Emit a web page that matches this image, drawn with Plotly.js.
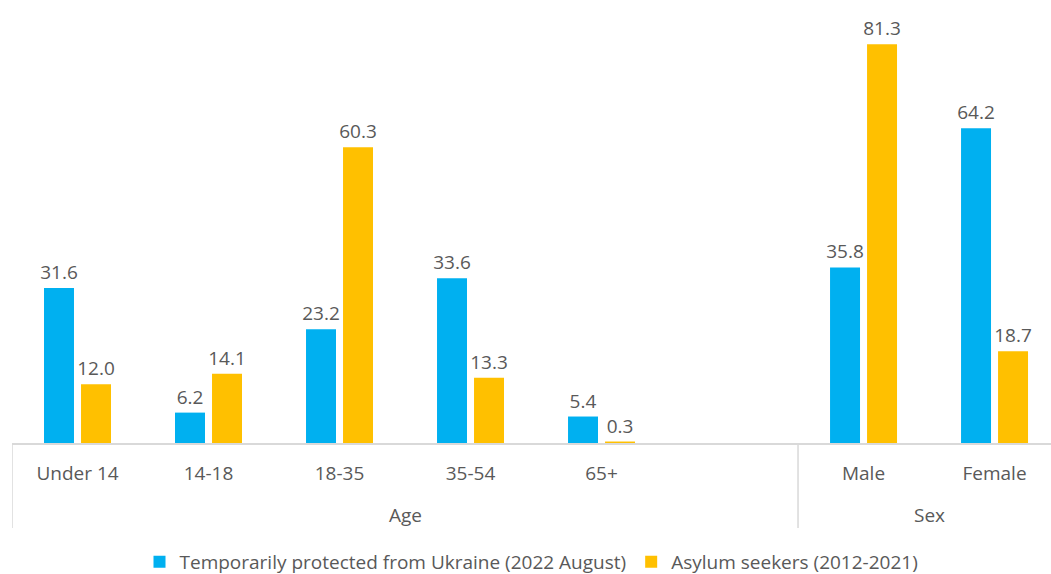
<!DOCTYPE html>
<html>
<head>
<meta charset="utf-8">
<script src="https://cdn.plot.ly/plotly-3.0.1.min.js"></script>
<style>html,body{margin:0;padding:0;background:#fff;}#chart{width:1051px;height:574px;}</style>
</head>
<body>
<div id="chart"></div>
<script>
const categories = ["Under 14","14-18","18-35","35-54","65+"," ","Male","Female"];
const groupLabels = ["Age","Sex"];
const groupStarts = [-0.5, 5.5];
const groupEnds = [5.5, 7.5];
const ukraine = [31.6, 6.2, 23.2, 33.6, 5.4, null, 35.8, 64.2];
const asylum = [12.0, 14.1, 60.3, 13.3, 0.3, null, 81.3, 18.7];
const seriesNames = ["Temporarily protected from Ukraine (2022 August)", "Asylum seekers (2012-2021)"];
const colors = ["#00B0F0", "#FFC000"];

const fmt = v => v == null ? "" : v.toFixed(1);
const font = "Open Sans, sans-serif";
const grey = "#595959";
const lineGrey = "#d9d9d9";

const traces = [ukraine, asylum].map((vals, i) => ({
  type: "bar",
  name: seriesNames[i],
  x: categories,
  y: vals,
  marker: {color: colors[i]},
  text: vals.map(fmt),
  textposition: "outside",
  constraintext: "none",
  cliponaxis: false,
  textfont: {family: font, size: 19, color: grey},
  hoverinfo: "none"
}));

// plot area: top 10, bottom 443 -> height 433
const plotH = 433;
const py = px => (443 - px) / plotH;

const annotations = groupLabels.map((g, i) => ({
  text: g, xref: "x", yref: "paper",
  x: (groupStarts[i] + groupEnds[i]) / 2, y: py(515),
  xanchor: "center", yanchor: "middle", showarrow: false,
  font: {family: font, size: 19, color: grey}
}));

const shapes = groupStarts.map(s => ({
  type: "line", xref: "x", yref: "paper",
  x0: s, x1: s, y0: 0, y1: py(528),
  line: {color: lineGrey, width: 1.5}
}));

const layout = {
  width: 1051, height: 574,
  margin: {l: 12, r: 0, t: 10, b: 131, autoexpand: false},
  paper_bgcolor: "#fff", plot_bgcolor: "#fff",
  barmode: "group",
  bargap: 0.435,
  bargroupgap: 0.19,
  font: {family: font, color: grey, size: 19},
  xaxis: {
    type: "category",
    range: [-0.5, 7.431],
    automargin: false,
    showline: true, linecolor: lineGrey, linewidth: 1.5,
    ticks: "", ticklabelstandoff: 13,
    tickfont: {family: font, size: 19, color: grey},
    showgrid: false, zeroline: false, fixedrange: true
  },
  yaxis: {
    range: [0, 88.3], visible: false, showgrid: false, zeroline: false, automargin: false
  },
  annotations: annotations,
  shapes: shapes,
  showlegend: true,
  legend: {
    orientation: "h", x: 0.5, xanchor: "center", y: py(562), yanchor: "middle",
    font: {family: font, size: 19, color: grey}
  }
};

Plotly.newPlot("chart", traces, layout, {displayModeBar: false, staticPlot: true});
</script>
</body>
</html>
